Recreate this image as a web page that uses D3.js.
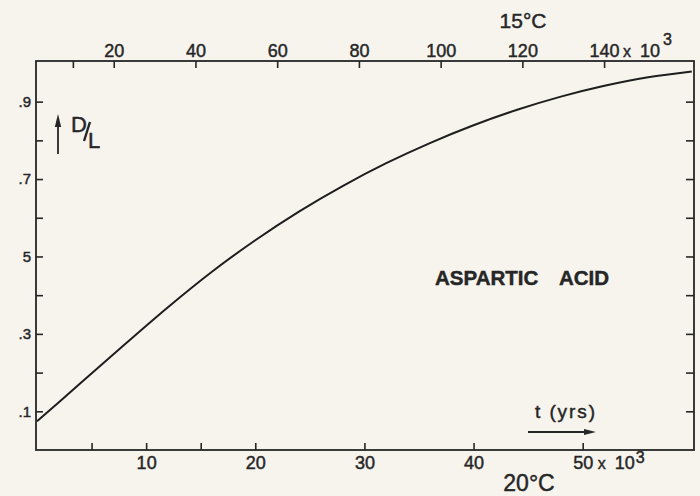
<!DOCTYPE html>
<html>
<head>
<meta charset="utf-8">
<script src="https://cdn.jsdelivr.net/npm/d3@7"></script>
<style>
  html, body { margin: 0; padding: 0; background: #f7f4ee; }
  svg { display: block; }
  .axis text, .lbl { font-family: "Liberation Sans", Arial, sans-serif; fill: #262626;
    stroke: #262626; stroke-width: 0.45; }
  .axis line { stroke: #262626; stroke-width: 1.6; }
</style>
</head>
<body>
<svg id="chart" width="700" height="496"></svg>
<script>
// D/L of aspartic acid vs time; bottom scale 20°C, top scale 15°C (kyr)
const T_KYR = [0, 4, 8, 12, 16, 20, 24, 28, 32, 36, 40, 44, 48, 52, 56, 60];
const DL = [0.074, 0.173, 0.272, 0.369, 0.460, 0.542, 0.616, 0.682, 0.741,
  0.793, 0.839, 0.879, 0.913, 0.941, 0.963, 0.978];

const TOP_TICKS = [10, 20, 40, 60, 80, 100, 120, 140];
const TOP_LABELED = new Set([20, 40, 60, 80, 100, 120, 140]);
const BOTTOM_TICKS = [5, 10, 15, 20, 30, 40, 50];
const BOTTOM_LABELED = new Set([10, 20, 30, 40, 50]);
const Y_TICKS = [0.1, 0.2, 0.3, 0.4, 0.5, 0.6, 0.7, 0.8, 0.9];
const Y_LABELS = { 0.1: ".1", 0.3: ".3", 0.5: "5", 0.7: ".7", 0.9: ".9" };

const fr = { l: 36, r: 694, t: 61, b: 450 };
const svg = d3.select("#chart");
const ink = "#262626";

const xBot = d3.scaleLinear().domain([0, 60.2]).range([37, fr.r]);
const xTop = d3.scaleLinear().domain([0, 162]).range([32, fr.r]);
const y = d3.scaleLinear().domain([0, 1.005]).range([fr.b, fr.t]);

// frame
svg.append("rect").attr("x", fr.l).attr("y", fr.t)
  .attr("width", fr.r - fr.l).attr("height", fr.b - fr.t)
  .attr("fill", "none").attr("stroke", ink).attr("stroke-width", 1.8);

// ---- axes (ticks point inwards) ----
const gTop = svg.append("g").attr("class", "axis")
  .attr("transform", `translate(0,${fr.t})`)
  .call(d3.axisTop(xTop).tickValues(TOP_TICKS).tickSize(-7).tickPadding(4)
    .tickFormat((d) => TOP_LABELED.has(d) ? d : ""));
gTop.select(".domain").remove();
gTop.selectAll("text").style("font-size", "18px");

const gBot = svg.append("g").attr("class", "axis")
  .attr("transform", `translate(0,${fr.b})`)
  .call(d3.axisBottom(xBot).tickValues(BOTTOM_TICKS).tickSize(-7).tickPadding(6)
    .tickFormat((d) => BOTTOM_LABELED.has(d) ? d : ""));
gBot.select(".domain").remove();
gBot.selectAll("text").style("font-size", "18px");

const gLeft = svg.append("g").attr("class", "axis")
  .attr("transform", `translate(${fr.l},0)`)
  .call(d3.axisLeft(y).tickValues(Y_TICKS).tickSize(-7).tickPadding(5)
    .tickFormat((d) => Y_LABELS[d] || ""));
gLeft.select(".domain").remove();
gLeft.selectAll("text").style("font-size", "15px");

const gRight = svg.append("g").attr("class", "axis")
  .attr("transform", `translate(${fr.r},0)`)
  .call(d3.axisRight(y).tickValues(Y_TICKS).tickSize(-8).tickFormat(""));
gRight.select(".domain").remove();

// "x 10³" multipliers after the last labels
function multiplier(x0, base, supX, supDy) {
  const g = svg.append("g").attr("class", "lbl");
  g.append("text").attr("x", x0).attr("y", base).style("font-size", "16px").text("x");
  g.append("text").attr("x", x0 + 17).attr("y", base).style("font-size", "18px").text("10");
  g.append("text").attr("x", x0 + supX).attr("y", base - supDy).style("font-size", "16px").text("3");
}
multiplier(xTop(140) + 19, 57, 40, 12);
multiplier(xBot(50) + 15, 469, 38, 6);

// ---- curve ----
const line = d3.line().x((d, i) => xBot(T_KYR[i])).y((d) => y(d))
  .curve(d3.curveMonotoneX);
svg.append("path").datum(DL).attr("d", line)
  .attr("fill", "none").attr("stroke", "#1e1e1e").attr("stroke-width", 2);

// ---- labels ----
svg.append("text").attr("class", "lbl").attr("x", 523).attr("y", 28)
  .attr("text-anchor", "middle").style("font-size", "21px").text("15°C");
svg.append("text").attr("class", "lbl").attr("x", 529).attr("y", 491)
  .attr("text-anchor", "middle").style("font-size", "23px").text("20°C");

svg.append("text").attr("class", "lbl").attr("x", 435).attr("y", 285)
  .style("font-size", "20.5px").style("font-weight", "bold").text("ASPARTIC");
svg.append("text").attr("class", "lbl").attr("x", 559).attr("y", 285)
  .style("font-size", "20.5px").style("font-weight", "bold").text("ACID");

svg.append("text").attr("class", "lbl").attr("x", 535).attr("y", 418)
  .attr("textLength", 60).attr("lengthAdjust", "spacing")
  .style("font-size", "19px").text("t (yrs)");

// arrows
function arrow(x1, y1, x2, y2, len, half) {
  const a = Math.atan2(y2 - y1, x2 - x1);
  const bx = x2 - len * Math.cos(a), by = y2 - len * Math.sin(a);
  svg.append("line").attr("x1", x1).attr("y1", y1).attr("x2", bx).attr("y2", by)
    .attr("stroke", ink).attr("stroke-width", 1.8);
  const px = -Math.sin(a) * half, py = Math.cos(a) * half;
  svg.append("path")
    .attr("d", `M${x2},${y2}L${bx + px},${by + py}L${bx - px},${by - py}Z`)
    .attr("fill", ink);
}
arrow(528, 432, 596, 432, 12, 3);
arrow(58, 154, 58, 114, 13, 3.2);

// D/L
svg.append("text").attr("class", "lbl").attr("x", 71).attr("y", 132)
  .style("font-size", "22px").text("D");
svg.append("line").attr("x1", 84).attr("y1", 141).attr("x2", 90).attr("y2", 122)
  .attr("stroke", ink).attr("stroke-width", 2.4);
svg.append("text").attr("class", "lbl").attr("x", 88).attr("y", 148)
  .style("font-size", "22px").text("L");
</script>
</body>
</html>
